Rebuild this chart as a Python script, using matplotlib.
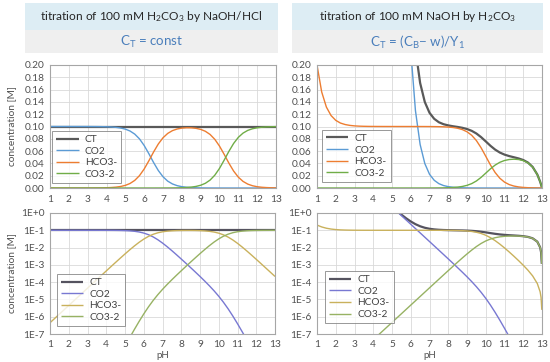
import matplotlib
matplotlib.use('Agg')
import matplotlib.pyplot as plt
from matplotlib.patches import Rectangle
from matplotlib.ticker import FixedLocator, FixedFormatter

plt.rcParams['font.family'] = ['Lato', 'DejaVu Sans']
plt.rcParams['mathtext.fontset'] = 'custom'
plt.rcParams['mathtext.rm'] = 'Lato'
plt.rcParams['mathtext.it'] = 'Lato:italic'
plt.rcParams['mathtext.default'] = 'regular'

# ---------------- data ----------------
ph_left = [1.0, 1.25, 1.5, 1.75, 2.0, 2.25, 2.5, 2.75, 3.0, 3.25, 3.5, 3.75,
           4.0, 4.25, 4.5, 4.75, 5.0, 5.25, 5.5, 5.75, 6.0, 6.25, 6.5, 6.75,
           7.0, 7.25, 7.5, 7.75, 8.0, 8.25, 8.5, 8.75, 9.0, 9.25, 9.5, 9.75,
           10.0, 10.25, 10.5, 10.75, 11.0, 11.25, 11.5, 11.75, 12.0, 12.25,
           12.5, 12.75, 13.0]
ct_left = [0.1, 0.1, 0.1, 0.1, 0.1, 0.1, 0.1, 0.1, 0.1, 0.1, 0.1, 0.1,
           0.1, 0.1, 0.1, 0.1, 0.1, 0.1, 0.1, 0.1, 0.1, 0.1, 0.1, 0.1,
           0.1, 0.1, 0.1, 0.1, 0.1, 0.1, 0.1, 0.1, 0.1, 0.1, 0.1, 0.1,
           0.1, 0.1, 0.1, 0.1, 0.1, 0.1, 0.1, 0.1, 0.1, 0.1, 0.1, 0.1, 0.1]
co2_left = [0.1, 0.1, 0.1, 0.1, 0.1, 0.09999, 0.09999, 0.09997, 0.09996,
            0.09992, 0.09986, 0.09975, 0.09955, 0.09921, 0.09861, 0.09755,
            0.09572, 0.09264, 0.08762, 0.07992, 0.06912, 0.05573, 0.04145,
            0.02847, 0.01829, 0.01117, 0.006602, 0.003819, 0.00218, 0.001233,
            6.93e-4, 3.864e-4, 2.134e-4, 1.161e-4, 6.16e-5, 3.151e-5, 1.525e-5,
            6.87e-6, 2.856e-6, 1.097e-6, 3.943e-7, 1.351e-7, 4.48e-8, 1.458e-8,
            4.69e-9, 1.5e-9, 4.75e-10, 1.5e-10, 4.8e-11]
hco3_left = [4.47e-7, 7.94e-7, 1.41e-6, 2.51e-6, 4.47e-6, 7.94e-6, 1.41e-5,
             2.51e-5, 4.47e-5, 7.93e-5, 1.41e-4, 2.50e-4, 4.45e-4, 7.88e-4,
             1.393e-3, 2.45e-3, 4.276e-3, 7.36e-3, 0.01238, 0.02008, 0.03088,
             0.04427, 0.05855, 0.07153, 0.08168, 0.08875, 0.09326, 0.09593,
             0.09736, 0.09795, 0.09786, 0.09706, 0.09533, 0.09221, 0.08706,
             0.07915, 0.06813, 0.05459, 0.04034, 0.02755, 0.01761, 0.01073,
             0.006333, 0.003663, 0.002093, 0.001188, 6.715e-4, 3.787e-4, 2.133e-4]
co3_left = [2.1e-16, 6.6e-16, 2.1e-15, 6.6e-15, 2.1e-14, 6.6e-14, 2.1e-13,
            6.6e-13, 2.1e-12, 6.6e-12, 2.1e-11, 6.6e-11, 2.08e-10, 6.56e-10,
            2.06e-9, 6.45e-9, 2.0e-8, 6.12e-8, 1.83e-7, 5.28e-7, 1.445e-6,
            3.68e-6, 8.66e-6, 1.88e-5, 3.82e-5, 7.38e-5, 1.379e-4, 2.523e-4,
            4.553e-4, 8.15e-4, 1.447e-3, 2.553e-3, 4.458e-3, 7.67e-3, 0.01288,
            0.02082, 0.03186, 0.04541, 0.05966, 0.07245, 0.08239, 0.08927,
            0.09367, 0.09634, 0.09791, 0.09881, 0.09933, 0.09962, 0.09979]

ph_right = [1.0, 1.25, 1.5, 1.75, 2.0, 2.25, 2.5, 2.75, 3.0, 3.25, 3.5, 3.75,
            4.0, 4.25, 4.5, 4.75, 5.0, 5.25, 5.5, 5.75, 6.0, 6.25, 6.5, 6.75,
            7.0, 7.25, 7.5, 7.75, 8.0, 8.25, 8.5, 8.75, 9.0, 9.25, 9.5, 9.75,
            10.0, 10.25, 10.5, 10.75, 11.0, 11.25, 11.5, 11.75, 12.0, 12.25,
            12.5, 12.75, 12.9, 12.95, 12.99]
ct_right = [44774, 19668, 9318, 4689, 2463, 1329.8, 730.4, 405.3, 226.2, 126.7,
            71.12, 39.98, 22.51, 12.70, 7.182, 4.082, 2.339, 1.359, 0.8080,
            0.4981, 0.3239, 0.2259, 0.1708, 0.1398, 0.1223, 0.1125, 0.1069,
            0.1037, 0.1018, 0.1004, 0.09926, 0.09788, 0.09592, 0.09296, 0.08862,
            0.08274, 0.07578, 0.06866, 0.06243, 0.05766, 0.05428, 0.05190,
            0.05000, 0.04807, 0.04548, 0.04136, 0.03430, 0.02193, 0.01030,
            0.005444, 0.001139]
co2_right = [44774, 19668, 9318, 4689, 2463, 1329.7, 730.3, 405.2, 226.1, 126.6,
             71.02, 39.88, 22.41, 12.60, 7.082, 3.982, 2.239, 1.259, 0.7080,
             0.3981, 0.2239, 0.1259, 0.07077, 0.03979, 0.02237, 0.01257,
             0.007059, 0.003960, 0.002218, 0.001238, 6.876e-4, 3.782e-4,
             2.047e-4, 1.079e-4, 5.462e-5, 2.607e-5, 1.156e-5, 4.718e-6,
             1.783e-6, 6.324e-7, 2.140e-7, 7.012e-8, 2.242e-8, 7.009e-9,
             2.131e-9, 6.18e-10, 1.631e-10, 3.31e-11, 7.8e-12, 3.3e-12, 5.7e-13]
hco3_right = [0.2, 0.1562, 0.1316, 0.1178, 0.1100, 0.1056, 0.1032, 0.1018,
              0.1010, 0.10056, 0.10032, 0.10018, 0.1001, 0.10006, 0.10003,
              0.10002, 0.10001, 0.1, 0.1, 0.09999, 0.09999, 0.09998, 0.09997,
              0.09995, 0.09991, 0.09983, 0.09971, 0.09948, 0.09907, 0.09836,
              0.09713, 0.09500, 0.09144, 0.08572, 0.07715, 0.06549, 0.05162,
              0.03748, 0.02518, 0.01588, 0.009561, 0.005570, 0.003167,
              0.001761, 9.519e-4, 4.913e-4, 2.304e-4, 8.304e-5, 2.764e-5,
              1.303e-5, 2.487e-6]
co3_right = [9.35e-11, 1.30e-10, 1.95e-10, 3.10e-10, 5.14e-10, 8.79e-10,
             1.53e-9, 2.68e-9, 4.72e-9, 8.36e-9, 1.48e-8, 2.63e-8, 4.68e-8,
             8.32e-8, 1.48e-7, 2.63e-7, 4.68e-7, 8.32e-7, 1.479e-6, 2.63e-6,
             4.68e-6, 8.32e-6, 1.479e-5, 2.63e-5, 4.673e-5, 8.30e-5, 1.475e-4,
             2.616e-4, 4.634e-4, 8.18e-4, 1.437e-3, 2.499e-3, 4.277e-3,
             7.130e-3, 0.01141, 0.01723, 0.02415, 0.03117, 0.03725, 0.04178,
             0.04472, 0.04633, 0.04684, 0.04631, 0.04452, 0.04086, 0.03407,
             0.02184, 0.01027, 0.005431, 0.001137]

series_names = ['CT', 'CO2', 'HCO3-', 'CO3-2']
ph_ticks = [1, 2, 3, 4, 5, 6, 7, 8, 9, 10, 11, 12, 13]
lin_ticks = [0.00, 0.02, 0.04, 0.06, 0.08, 0.10, 0.12, 0.14, 0.16, 0.18, 0.20]
log_ticks = [1e-7, 1e-6, 1e-5, 1e-4, 1e-3, 1e-2, 1e-1, 1e0]
log_labels = ['1E-7', '1E-6', '1E-5', '1E-4', '1E-3', '1E-2', '1E-1', '1E+0']

titles = ['titration of 100 mM H$_2$CO$_3$ by NaOH/HCl',
          'titration of 100 mM NaOH by H$_2$CO$_3$']
subtitles = ['C$_T$ = const', 'C$_T$ = (C$_B$\u2212 w)/Y$_1$']

# ---------------- styling ----------------
W, H = 550.0, 362.0
top_colors = ['#595959', '#5B9BD5', '#ED7D31', '#70AD47']
bot_colors = ['#55535F', '#7878D2', '#C9B15C', '#97B263']
widths = [1.6, 1.0, 1.0, 1.0]
txt_col = '#505050'
fs = 7.3

fig = plt.figure(figsize=(W / 100, H / 100), dpi=100)

# header bands
for (x0, x1), t1, t2 in zip([(25, 278), (292, 543)], titles, subtitles):
    fig.patches.append(Rectangle((x0 / W, 1 - 30 / H), (x1 - x0) / W, 27 / H,
                                 transform=fig.transFigure, facecolor='#DDEDF4',
                                 edgecolor='none', zorder=0))
    fig.patches.append(Rectangle((x0 / W, 1 - 53 / H), (x1 - x0) / W, 23 / H,
                                 transform=fig.transFigure, facecolor='#EFEFEF',
                                 edgecolor='none', zorder=0))
    xc = (x0 + x1) / 2 / W
    fig.text(xc, 1 - 17 / H, t1, ha='center', va='center', fontsize=8.6,
             color='#262626')
    fig.text(xc, 1 - 42 / H, t2, ha='center', va='center', fontsize=9.6,
             color='#4A7EBB')


def style(ax):
    for s in ax.spines.values():
        s.set_color('#A6A6A6')
        s.set_linewidth(0.8)
    ax.grid(True, color='#D9D9D9', linewidth=0.6)
    ax.set_axisbelow(True)
    ax.tick_params(length=0, labelsize=fs, labelcolor=txt_col)
    ax.set_xlim(1, 13)
    ax.xaxis.set_major_locator(FixedLocator(ph_ticks))
    ax.xaxis.set_major_formatter(FixedFormatter([str(t) for t in ph_ticks]))


axes_pos = {
    'tl': [50 / W, 1 - 188 / H, 226 / W, 123 / H],
    'tr': [317 / W, 1 - 188 / H, 225 / W, 123 / H],
    'bl': [50 / W, 1 - 334 / H, 225 / W, 121 / H],
    'br': [317 / W, 1 - 334 / H, 225 / W, 121 / H],
}
legend_anchor = {'tl': (0.01, 0.04), 'tr': (0.022, 0.05),
                 'bl': (0.03, 0.066), 'br': (0.036, 0.09)}

data = {
    'l': (ph_left, [ct_left, co2_left, hco3_left, co3_left]),
    'r': (ph_right, [ct_right, co2_right, hco3_right, co3_right]),
}

for key, pos in axes_pos.items():
    ax = fig.add_axes(pos)
    style(ax)
    ph, ys = data[key[1]]
    top = key[0] == 't'
    cols = top_colors if top else bot_colors
    for name, y, c, lw in zip(series_names, ys, cols, widths):
        ax.plot(ph, y, color=c, lw=lw, label=name, solid_capstyle='butt')
    if top:
        ax.set_ylim(0, 0.2)
        ax.yaxis.set_major_locator(FixedLocator(lin_ticks))
        ax.yaxis.set_major_formatter(FixedFormatter(['%.2f' % t for t in lin_ticks]))
        ax.tick_params(axis='x', pad=5)
        ax.tick_params(axis='y', pad=4)
    else:
        ax.set_yscale('log')
        ax.set_ylim(1e-7, 1)
        ax.yaxis.set_major_locator(FixedLocator(log_ticks))
        ax.yaxis.set_major_formatter(FixedFormatter(log_labels))
        ax.yaxis.set_minor_locator(FixedLocator([]))
        ax.tick_params(axis='x', pad=4)
        ax.tick_params(axis='y', pad=4)
        xc = (pos[0] + pos[2] / 2)
        fig.text(xc, 1 - 355.5 / H, 'pH', ha='center', va='center',
                 fontsize=fs - 0.3, color=txt_col)
    leg = ax.legend(loc='lower left', bbox_to_anchor=legend_anchor[key],
                    borderaxespad=0, fontsize=fs, frameon=True, fancybox=False,
                    handlelength=2.2, handletextpad=0.6, labelspacing=0.25,
                    borderpad=0.4)
    leg.get_frame().set_edgecolor('#7F7F7F')
    leg.get_frame().set_linewidth(0.7)
    for t in leg.get_texts():
        t.set_color('#404040')

fig.text(12 / W, 1 - 126 / H, 'concentration [M]', rotation=90, ha='center',
         va='center', fontsize=fs, color=txt_col)
fig.text(12 / W, 1 - 273 / H, 'concentration [M]', rotation=90, ha='center',
         va='center', fontsize=fs, color=txt_col)

fig.savefig('out.png', dpi=100)
